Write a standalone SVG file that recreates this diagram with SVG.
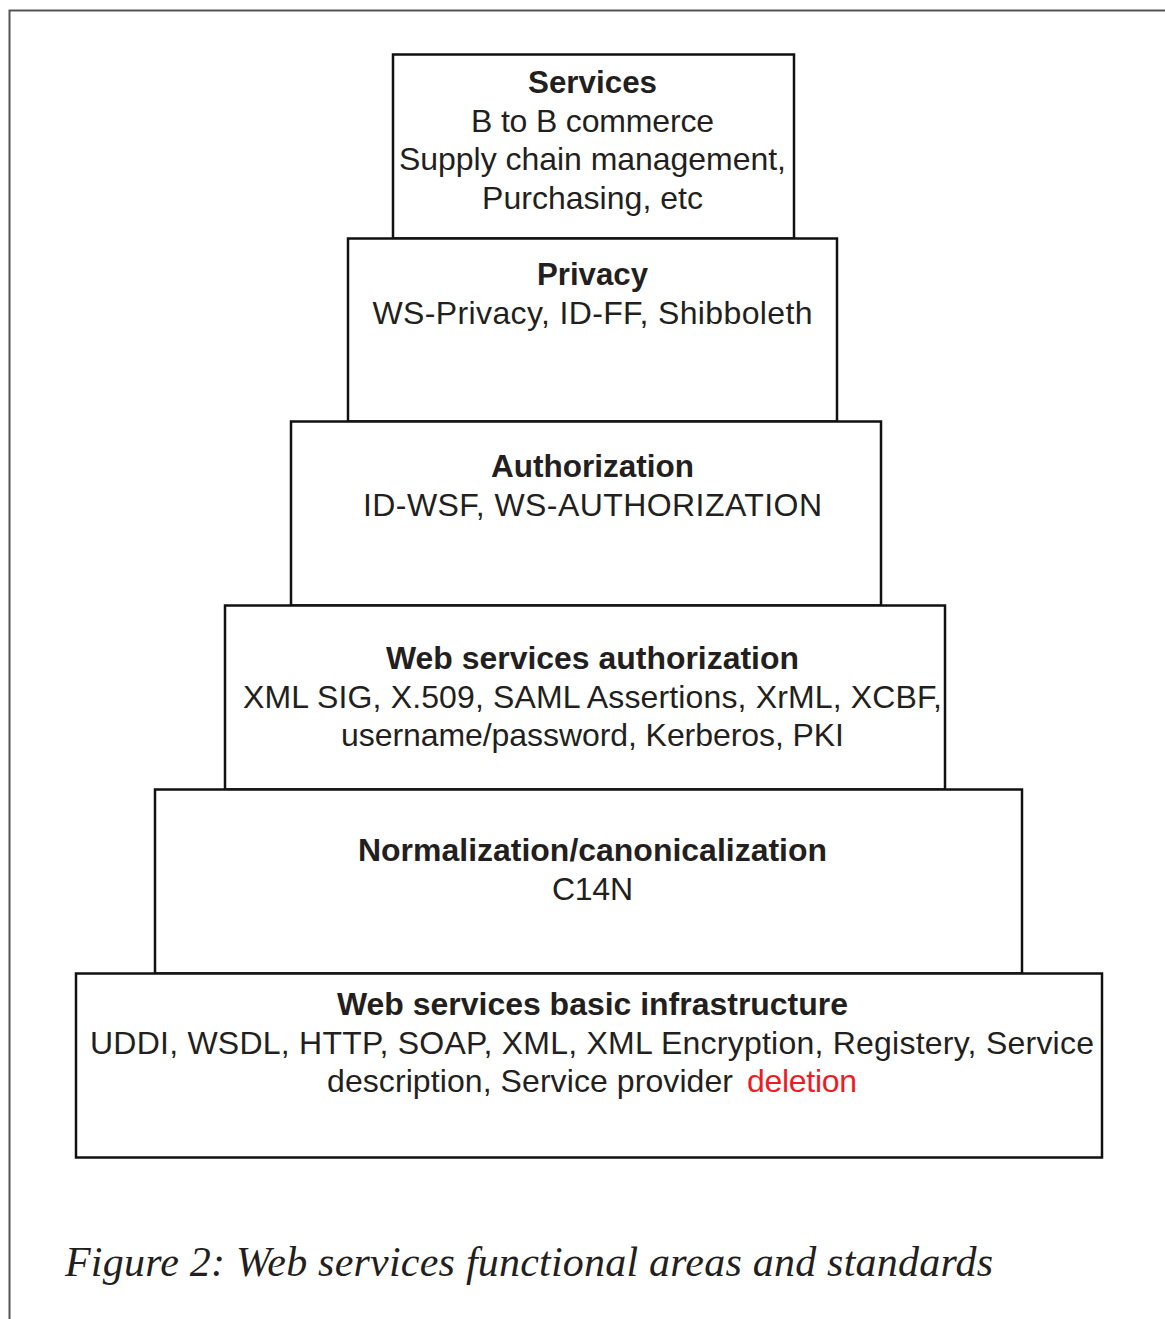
<svg xmlns="http://www.w3.org/2000/svg" width="1165" height="1319" viewBox="0 0 1165 1319">
<style>
.box{fill:#fff;stroke:#111;stroke-width:2.5}
.t{font-family:"Liberation Sans",Arial,sans-serif;font-size:32px;fill:#231f20;text-anchor:middle}
.b{font-weight:bold}
.red{fill:#ed1c24}
.cap{font-family:"Liberation Serif","Times New Roman",serif;font-style:italic;font-size:42px;fill:#231f20}
</style>
<rect width="1165" height="1319" fill="#fff"/>
<g id="frame" fill="none" stroke="#555" stroke-width="2">
<path d="M9.5 1319 V10.5 H1165"/>
</g>
<g id="connectors"></g>
<g id="services">
<rect class="box" x="393" y="54.5" width="401" height="184"/>
<text class="t b" x="592.5" y="93" textLength="129" lengthAdjust="spacingAndGlyphs">Services</text>
<text class="t" x="592.5" y="131.5" textLength="243" lengthAdjust="spacing">B to B commerce</text>
<text class="t" x="592.5" y="170" textLength="387" lengthAdjust="spacing">Supply chain management,</text>
<text class="t" x="592.5" y="208.5" textLength="221" lengthAdjust="spacing">Purchasing, etc</text>
</g>
<g id="privacy">
<rect class="box" x="348" y="238.5" width="489" height="183"/>
<text class="t b" x="592.5" y="285" textLength="111" lengthAdjust="spacingAndGlyphs">Privacy</text>
<text class="t" x="592.5" y="323.5" textLength="440" lengthAdjust="spacing">WS-Privacy, ID-FF, Shibboleth</text>
</g>
<g id="authorization">
<rect class="box" x="291" y="421.5" width="590" height="184"/>
<text class="t b" x="592.5" y="477" textLength="203" lengthAdjust="spacingAndGlyphs">Authorization</text>
<text class="t" x="592.5" y="515.5" textLength="459" lengthAdjust="spacing">ID-WSF,  WS-AUTHORIZATION</text>
</g>
<g id="ws-authorization">
<rect class="box" x="225" y="605.5" width="720" height="184"/>
<text class="t b" x="592.5" y="669" textLength="413" lengthAdjust="spacingAndGlyphs">Web services authorization</text>
<text class="t" x="592.5" y="707.5" textLength="699" lengthAdjust="spacing">XML SIG, X.509, SAML Assertions, XrML, XCBF,</text>
<text class="t" x="592.5" y="746" textLength="503" lengthAdjust="spacing">username/password, Kerberos, PKI</text>
</g>
<g id="normalization">
<rect class="box" x="155" y="789.5" width="867" height="184"/>
<text class="t b" x="592.5" y="861" textLength="469" lengthAdjust="spacingAndGlyphs">Normalization/canonicalization</text>
<text class="t" x="592.5" y="899.5" textLength="81" lengthAdjust="spacing">C14N</text>
</g>
<g id="infrastructure">
<rect class="box" x="76" y="973.5" width="1026" height="184"/>
<text class="t b" x="592.5" y="1015" textLength="511" lengthAdjust="spacingAndGlyphs">Web services basic infrastructure</text>
<text class="t" x="592" y="1053.5" textLength="1004" lengthAdjust="spacing">UDDI, WSDL, HTTP, SOAP, XML, XML Encryption, Registery, Service</text>
<text class="t" x="530" y="1092" textLength="406" lengthAdjust="spacing">description, Service provider</text>
<text class="t red" x="802" y="1092" textLength="110" lengthAdjust="spacing">deletion</text>
</g>
<text class="cap" x="65" y="1276" textLength="928" lengthAdjust="spacing">Figure 2: Web services functional areas and standards</text>
</svg>
